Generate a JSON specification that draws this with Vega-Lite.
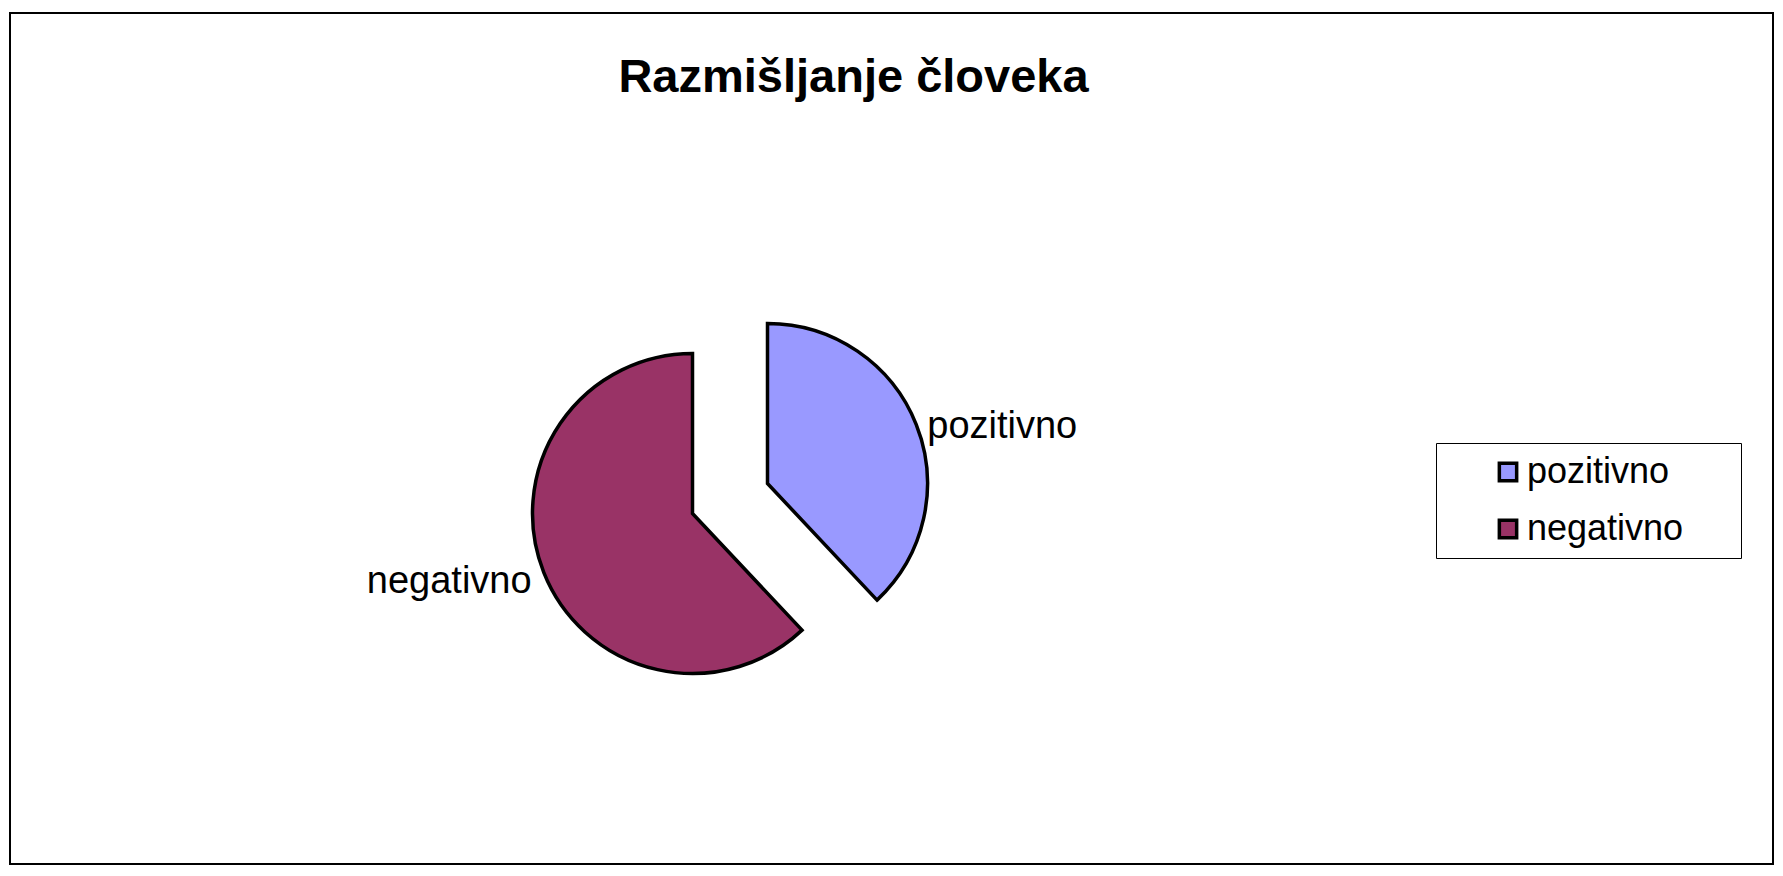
{
  "$schema": "https://vega.github.io/schema/vega-lite/v6.json",
  "autosize": "none",
  "width": 1763,
  "height": 851,
  "padding": {"left": 10, "top": 13, "right": 10, "bottom": 12},
  "background": "white",
  "view": {"stroke": "black", "strokeWidth": 2},
  "config": {
    "view": {"stroke": "black", "strokeWidth": 2},
    "font": "Liberation Sans"
  },
  "title": {
    "text": "Razmišljanje človeka",
    "font": "Liberation Sans",
    "fontSize": 47,
    "fontWeight": "bold",
    "color": "black",
    "anchor": "middle",
    "orient": "top",
    "baseline": "alphabetic",
    "offset": -126,
    "dx": -38
  },
  "data": {
    "values": [
      {"category": "pozitivno", "value": 38},
      {"category": "negativno", "value": 62}
    ]
  },
  "encoding": {
    "theta": {"field": "value", "type": "quantitative", "stack": true, "scale": {"domain": [0, 100]}},
    "order": {"field": "category", "sort": "descending"}
  },
  "layer": [
    {
      "mark": {"type": "arc", "outerRadius": 160, "stroke": "black", "strokeWidth": 3.5, "strokeJoin": "miter", "xOffset": -124, "yOffset": 45},
      "encoding": {
        "color": {
          "field": "category", "type": "nominal",
          "scale": {"domain": ["pozitivno", "negativno"], "range": ["#9999FF", "#993366"]},
          "legend": {
            "orient": "none", "legendX": 1426, "legendY": 430,
            "title": " ", "titleOrient": "right", "titlePadding": 47,
            "strokeColor": "black", "fillColor": "white", "padding": 11,
            "labelFont": "Liberation Sans", "labelFontSize": 36, "labelColor": "black",
            "symbolType": "square", "symbolSize": 300, "symbolStrokeColor": "black", "symbolStrokeWidth": 3.5,
            "symbolOffset": 43, "labelOffset": 1, "rowPadding": 21
          }
        },
        "opacity": {"condition": {"test": "datum.category === 'pozitivno'", "value": 1}, "value": 0}
      }
    },
    {
      "mark": {"type": "arc", "outerRadius": 160, "stroke": "black", "strokeWidth": 3.5, "strokeJoin": "miter", "xOffset": -199, "yOffset": 75},
      "encoding": {
        "color": {"field": "category", "type": "nominal"},
        "opacity": {"condition": {"test": "datum.category === 'negativno'", "value": 1}, "value": 0}
      }
    },
    {
      "mark": {"type": "text", "radius": 174, "align": "left", "baseline": "middle", "fontSize": 38, "font": "Liberation Sans", "color": "black", "xOffset": -126, "yOffset": 53},
      "encoding": {
        "text": {"field": "category"},
        "opacity": {"condition": {"test": "datum.category === 'pozitivno'", "value": 1}, "value": 0}
      }
    },
    {
      "mark": {"type": "text", "radius": 173, "align": "right", "baseline": "middle", "fontSize": 38, "font": "Liberation Sans", "color": "black", "xOffset": -199, "yOffset": 80},
      "encoding": {
        "text": {"field": "category"},
        "opacity": {"condition": {"test": "datum.category === 'negativno'", "value": 1}, "value": 0}
      }
    }
  ]
}
